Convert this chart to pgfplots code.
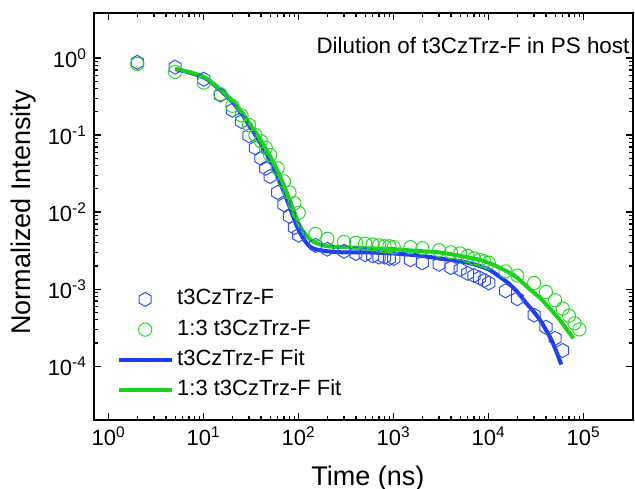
\documentclass[border=0pt]{standalone}
\usepackage{pgfplots}
\pgfplotsset{compat=1.18}
\usepackage{fontspec}
\setmainfont{Liberation Sans}
\definecolor{fitblue}{RGB}{30,60,240}
\definecolor{fitgreen}{RGB}{25,210,25}
\definecolor{mkblue}{RGB}{50,80,240}
\definecolor{mkgreen}{RGB}{40,215,40}
\pgfdeclareplotmark{hexagon}{%
  \pgfpathmoveto{\pgfqpointpolar{90}{\pgfplotmarksize}}%
  \pgfpathlineto{\pgfqpointpolar{150}{\pgfplotmarksize}}%
  \pgfpathlineto{\pgfqpointpolar{210}{\pgfplotmarksize}}%
  \pgfpathlineto{\pgfqpointpolar{270}{\pgfplotmarksize}}%
  \pgfpathlineto{\pgfqpointpolar{330}{\pgfplotmarksize}}%
  \pgfpathlineto{\pgfqpointpolar{30}{\pgfplotmarksize}}%
  \pgfpathclose
  \pgfusepathqstroke}
\begin{document}
\begin{tikzpicture}
\begin{axis}[
  name=ax,
  scale only axis,
  width=269.5pt, height=203.5pt,
  xmode=log, ymode=log,
  xmin=0.70, xmax=3.3e5,
  ymin=2.0e-5, ymax=3.84,
  axis line style={line width=0.7pt},
  every tick/.style={line width=0.6pt, black},
  major tick length=3.5pt, minor tick length=2pt,
  tick align=inside,
  /pgf/number format/assume math mode=true,
  log number format basis/.code 2 args={#1\textsuperscript{\pgfmathprintnumber{#2}}},
  ticklabel style={font=\fontsize{11}{13}\selectfont},
  xtick={1,10,100,1000,10000,100000},
  ytick={1e-4,1e-3,1e-2,1e-1,1},
  xlabel={Time (ns)},
  ylabel={Normalized Intensity},
  every axis x label/.style={at={(axis description cs:0.508,-0.16)}, anchor=base, font=\fontsize{13.5}{15}\selectfont},
  every axis y label/.style={at={(axis description cs:-0.13,0.51)}, anchor=center, rotate=90, font=\fontsize{13.5}{15}\selectfont},
  legend image code/.code={\draw[mark repeat=2,mark phase=2] plot coordinates {(0pt,0pt) (13pt,0pt) (26.5pt,0pt)};},
  legend cell align=left,
  legend style={draw=none, fill=none, inner sep=0pt, outer sep=0pt,
    at={(rel axis cs:0.043,0.185)}, anchor=west,
    font=\fontsize{11}{13}\selectfont,
    row sep=2.6pt,
    nodes={inner sep=1.5pt, text height=7.5pt, text depth=2pt}},
]
\addplot[only marks, mark=hexagon, mark size=3.5pt, mkblue, line width=0.5pt] coordinates {
(2,0.88) (5,0.76) (10,0.53) (15,0.33) (20,0.21) (25,0.15) (30,0.098) (35,0.068) (40,0.050) (45,0.037) (50,0.029) (60,0.018) (70,0.0125) (80,0.0088) (90,0.0063) (100,0.0050) (150,0.0037) (200,0.0033) (300,0.0031) (400,0.0029) (500,0.0028) (600,0.0027) (700,0.0026) (800,0.0026) (900,0.0025) (1000,0.0025) (1500,0.0024) (2000,0.0022) (3000,0.0021) (4000,0.0019) (5000,0.0018) (6000,0.0016) (7000,0.0015) (8000,0.0014) (9000,0.0013) (10000,0.0012) (15000,0.00095) (20000,0.00075) (30000,0.00046) (40000,0.00032) (50000,0.00023) (60000,0.00016)
};
\addlegendentry{t3CzTrz-F}
\addplot[only marks, mark=o, mark size=3.3pt, mkgreen, line width=0.5pt] coordinates {
(2,0.84) (5,0.66) (10,0.48) (15,0.34) (20,0.24) (25,0.18) (30,0.135) (35,0.10) (40,0.083) (45,0.068) (50,0.055) (60,0.037) (70,0.025) (80,0.018) (90,0.013) (100,0.0098) (150,0.0052) (200,0.0045) (300,0.0041) (400,0.0040) (500,0.0039) (600,0.0038) (700,0.0037) (800,0.0036) (900,0.0036) (1000,0.0035) (1500,0.0035) (2000,0.0034) (3000,0.0032) (4000,0.0030) (5000,0.0029) (6000,0.0027) (7000,0.0025) (8000,0.0024) (9000,0.0023) (10000,0.0022) (15000,0.0017) (20000,0.0015) (30000,0.0012) (40000,0.00092) (50000,0.00072) (60000,0.00056) (70000,0.00045) (80000,0.00036) (90000,0.00030)
};
\addlegendentry{1:3 t3CzTrz-F}
\addplot[no marks, fitblue, line width=2pt, smooth] coordinates {
(5,0.72) (7,0.65) (10,0.56) (12,0.48) (15,0.38) (20,0.27) (25,0.19) (30,0.135) (35,0.10) (40,0.077) (50,0.047) (60,0.029) (70,0.018) (80,0.0118) (90,0.0080) (100,0.0058) (115,0.0043) (130,0.0036) (150,0.0033) (200,0.0031) (300,0.0030) (500,0.0030) (1000,0.0029) (2000,0.0027) (3000,0.0025) (5000,0.0023) (7000,0.0021) (10000,0.0018) (13000,0.00145) (16000,0.0012) (20000,0.00092) (25000,0.00065) (29000,0.00053) (35000,0.00039) (44000,0.00024) (50000,0.00017) (58000,0.000105)
};
\addlegendentry{t3CzTrz-F Fit}
\addplot[no marks, fitgreen, line width=2pt, smooth] coordinates {
(5,0.72) (7,0.66) (10,0.57) (12,0.49) (15,0.39) (20,0.28) (25,0.20) (30,0.145) (35,0.11) (40,0.085) (50,0.053) (60,0.034) (70,0.022) (80,0.0145) (90,0.0098) (100,0.0070) (115,0.0053) (130,0.0045) (150,0.0040) (200,0.0036) (300,0.0035) (500,0.0034) (1000,0.0033) (2000,0.0031) (3000,0.0030) (5000,0.0027) (8000,0.0024) (10000,0.0022) (13000,0.0019) (17000,0.0016) (20000,0.0014) (27000,0.0010) (35000,0.00076) (44000,0.00056) (55000,0.00041) (65000,0.00031) (78000,0.00023)
};
\addlegendentry{1:3 t3CzTrz-F Fit}
\node[anchor=east, inner sep=0pt, font=\fontsize{11.2}{13}\selectfont] at (rel axis cs:0.994,0.921) {Dilution of t3CzTrz-F in PS host};
\end{axis}
\pgfresetboundingbox
\path[use as bounding box] ([shift={(-47pt,-34pt)}]ax.south west) rectangle ([shift={(1pt,6.5pt)}]ax.north east);
\end{tikzpicture}
\end{document}
